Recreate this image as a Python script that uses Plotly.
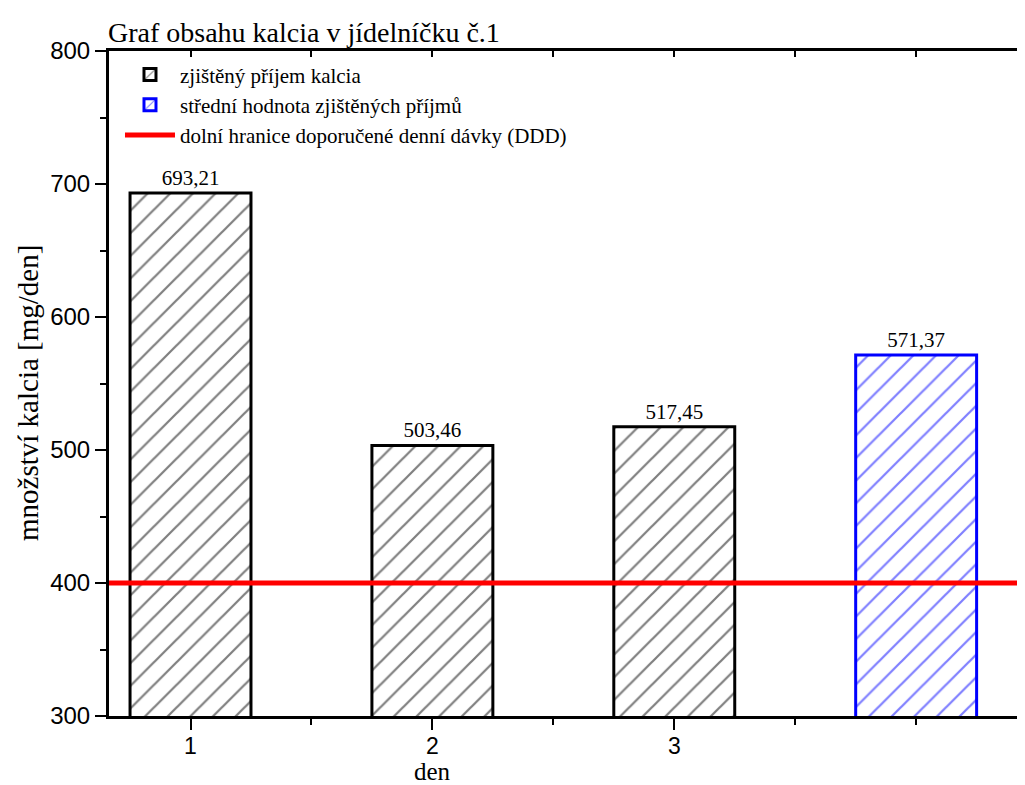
import plotly.graph_objects as go

days = [1, 2, 3]
intake = [693.21, 503.46, 517.45]
mean_x = [4]
mean_val = [571.37]
ddd = 400
x_range = [0.663, 4.45]
y_range = [300, 800]
y_ticks = [300, 400, 500, 600, 700, 800]
x_ticks = [1, 2, 3]
x_ticklabels = ["1", "2", "3"]

def fmt(v):
    return f"{v:.2f}".replace(".", ",")

SERIF = "Liberation Serif, serif"
SANS = "Liberation Sans, sans-serif"

# page body has an 8px margin -> figure drawn at offset (8, 8)
W, H = 1017, 777
L, T, B, R = 101, 43, 69, 0
PH = H - T - B

fig = go.Figure()
fig.add_trace(go.Bar(
    x=days, y=intake, width=0.5, name="zjištěný příjem kalcia",
    marker=dict(color="white", line=dict(color="black", width=3),
                pattern=dict(shape="/", fgcolor="black", bgcolor="white", size=16, solidity=0.14)),
    text=[fmt(v) for v in intake], textposition="outside",
    textfont=dict(family=SERIF, size=21, color="black"), cliponaxis=False,
))
fig.add_trace(go.Bar(
    x=mean_x, y=mean_val, width=0.5, name="střední hodnota zjištěných příjmů",
    marker=dict(color="white", line=dict(color="#0000ff", width=3),
                pattern=dict(shape="/", fgcolor="#0000ff", bgcolor="white", size=16, solidity=0.14)),
    text=[fmt(v) for v in mean_val], textposition="outside",
    textfont=dict(family=SERIF, size=21, color="black"), cliponaxis=False,
))
fig.add_trace(go.Scatter(
    x=x_range, y=[ddd, ddd], mode="lines", name="dolní hranice doporučené denní dávky (DDD)",
    line=dict(color="#ff0000", width=5), xaxis="x",
))
# top mirror axis (ticks inside)
fig.add_trace(go.Scatter(x=[None], y=[None], xaxis="x2", showlegend=False, hoverinfo="skip"))

fig.update_layout(
    width=W, height=H,
    margin=dict(l=L, r=R, t=T, b=B),
    plot_bgcolor="white", paper_bgcolor="white",
    font=dict(family=SERIF, color="black"),
    showlegend=True,
    barmode="overlay",
    title=dict(text="Graf obsahu kalcia v jídelníčku č.1", x=(L - 1) / W, xanchor="left",
               y=1 - 24 / H, yanchor="middle", yref="container",
               font=dict(family=SERIF, size=28, color="black")),
    legend=dict(x=0.012, y=0.995, xanchor="left", yanchor="top", bgcolor="rgba(0,0,0,0)",
                font=dict(family=SERIF, size=21, color="black"), tracegroupgap=0,
                itemwidth=50),
    xaxis=dict(range=x_range, tickmode="array", tickvals=x_ticks, ticktext=x_ticklabels,
               ticks="outside", ticklen=11, tickwidth=2, tickcolor="black",
               ticklabelstandoff=-4,
               minor=dict(tickmode="array", tickvals=[1.5, 2.5, 3.5, 4], ticks="outside",
                          ticklen=6, tickwidth=2, tickcolor="black"),
               showline=True, linecolor="black", linewidth=3, showgrid=False, zeroline=False,
               tickfont=dict(family=SANS, size=23, color="black")),
    xaxis2=dict(range=x_range, overlaying="x", side="top", anchor="y",
                tickmode="array", tickvals=[1, 1.5, 2, 2.5, 3, 3.5, 4], showticklabels=False,
                ticks="inside", ticklen=6, tickwidth=2, tickcolor="black",
                showline=True, linecolor="black", linewidth=3, showgrid=False, zeroline=False),
    yaxis=dict(range=y_range, tickmode="array", tickvals=y_ticks,
               ticks="outside", ticklen=11, tickwidth=2, tickcolor="black",
               minor=dict(tickmode="array", tickvals=[350, 450, 550, 650, 750], ticks="outside",
                          ticklen=6, tickwidth=2, tickcolor="black"),
               showline=True, linecolor="black", linewidth=3, showgrid=False, zeroline=False,
               tickfont=dict(family=SANS, size=24, color="black")),
    annotations=[
        dict(text="množství kalcia [mg/den]", textangle=-90, xref="paper", yref="paper",
             x=-(L + 8 - 28) / (W - L - R), y=(785 - B - 393) / PH, xanchor="center", yanchor="middle",
             showarrow=False, font=dict(family=SERIF, size=29, color="black")),
        dict(text="den", xref="x", yref="paper", x=2, y=-(771 - 716) / PH,
             xanchor="center", yanchor="middle", showarrow=False,
             font=dict(family=SERIF, size=25, color="black")),
    ],
)

fig.write_html("out.html")
